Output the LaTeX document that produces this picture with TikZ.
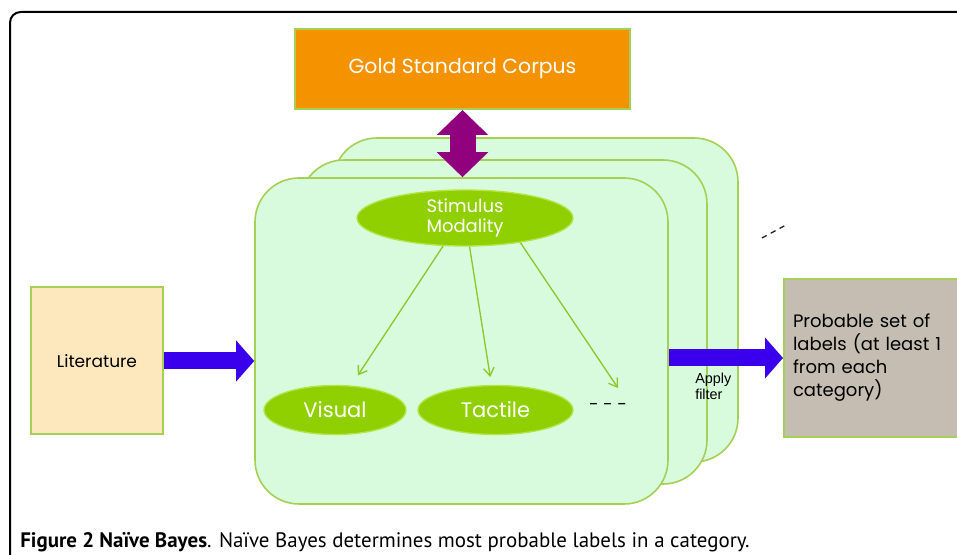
\documentclass[tikz,border=0pt]{standalone}
\usepackage{fontspec}
\setmainfont{Poppins}
\newfontfamily\capfont{PT Sans}
\newfontfamily\arialfont{Liberation Sans}
\usetikzlibrary{arrows.meta,shapes.geometric,calc}
\definecolor{goldc}{RGB}{245,146,0}
\definecolor{litc}{RGB}{253,232,190}
\definecolor{probc}{RGB}{197,189,178}
\definecolor{cardc}{RGB}{216,251,222}
\definecolor{edgec}{RGB}{165,208,85}
\definecolor{ellc}{RGB}{145,208,0}
\definecolor{ellb}{RGB}{180,228,70}
\definecolor{bluec}{RGB}{58,0,238}
\definecolor{purc}{RGB}{145,0,125}
\definecolor{linec}{RGB}{140,200,40}
\tikzset{
  boxstyle/.style={draw=edgec, line width=1.5pt, inner sep=0pt},
  card/.style={draw=edgec, line width=1.2pt, fill=cardc, rounded corners=33pt, minimum height=243pt, inner sep=0pt},
  ell/.style={ellipse, draw=ellb, line width=1pt, fill=ellc, inner sep=0pt, text=white, align=center},
  fatblue/.style={draw=bluec, line width=12.75pt, -{Triangle[length=13.5pt,width=30pt]}},
  fatpur/.style={draw=purc, line width=19.5pt, {Triangle[length=18.75pt,width=37.5pt]}-{Triangle[length=18.75pt,width=37.5pt]}},
  thin/.style={draw=linec, line width=1pt, -{Straight Barb[length=6pt,width=8pt]}},
  dashmark/.style={draw=black!85, line width=1pt, dash pattern=on 4pt off 3.5pt}
}
\begin{document}
\begin{tikzpicture}[x=0.75pt,y=-0.75pt]
\useasboundingbox (0,0) rectangle (957,555);
\fill[white] (0,0) rectangle (957,555);
\draw[black, line width=1.5pt, rounded corners=8pt] (10,620) -- (10,12) -- (1000,12);

\node[boxstyle, fill=goldc, minimum width=251.25pt, minimum height=60pt, text=white,
  font=\fontsize{15.3}{18}\selectfont] (gold) at (462.5,69) {Gold Standard Corpus};
\node[boxstyle, fill=litc, minimum width=99pt, minimum height=110.25pt,
  font=\fontsize{12.75}{15}\selectfont] (lit) at (97,361) {Literature};
\node[boxstyle, fill=probc, minimum height=118.5pt, text width=141pt, inner xsep=6.75pt, align=left,
  font=\fontsize{13.5}{17.25}\selectfont] (prob) at (887,358) {Probable set of\\labels (at least 1\\from each\\category)};

\node[card, minimum width=303.75pt] (back) at (535.5,300) {};
\node[card, minimum width=305.25pt] (mid) at (503.5,322) {};
\node[card, minimum width=309.75pt, minimum height=244.5pt] (front) at (461.5,341) {};

\draw[fatpur] (gold.south) -- (gold.south |- front.north);
\draw[fatblue] (lit.east) -- (lit.east -| front.west);
\draw[fatblue] (front.east |- prob.west) -- (prob.west);

\node[ell, minimum width=162pt, minimum height=42pt, font=\fontsize{13.5}{15.75}\selectfont] (stim) at (465,218) {Stimulus\\[-1pt]Modality};
\node[ell, minimum width=106.5pt, minimum height=36.75pt, font=\fontsize{15.75}{18}\selectfont] (visual) at (335,410) {Visual};
\node[ell, minimum width=116.25pt, minimum height=36.75pt, font=\fontsize{15.75}{18}\selectfont] (tactile) at (495.5,410) {Tactile};
\node[font=\fontsize{13}{15}\selectfont] (more) at (608,407) {- - -};
\coordinate (moretip) at (618,388);

\draw[thin, shorten >=9pt] (stim.-128) -- (visual);
\draw[thin, shorten >=6pt] (stim) -- (tactile);
\draw[thin] (stim.-24) -- (moretip);

\node[anchor=north west, align=left, inner sep=0pt, font=\arialfont\fontsize{10.8}{11.5}\selectfont] (apply) at (695,373) {Apply\\filter};

\coordinate (dashA) at (762,238);
\coordinate (dashB) at (786,225);
\draw[dashmark] (dashA) -- (dashB);

\node[anchor=base west, inner sep=0pt, font=\capfont\fontsize{15.7}{18}\selectfont] (cap) at (20,548)
  {\textbf{Figure 2 Naïve Bayes}. Naïve Bayes determines most probable labels in a category.};
\end{tikzpicture}
\end{document}
